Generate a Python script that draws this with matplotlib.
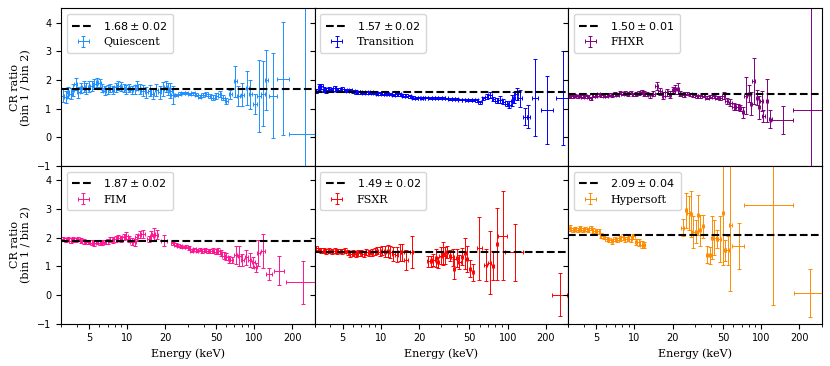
import matplotlib
matplotlib.use("Agg")
import matplotlib.pyplot as plt
from matplotlib.ticker import FixedLocator, LogLocator, NullFormatter, FixedFormatter

plt.rcParams['font.family'] = 'serif'
plt.rcParams['font.serif'] = ['DejaVu Serif']
plt.rcParams['mathtext.fontset'] = 'dejavusans'

# shared low-energy binning (keV) and half widths
e_grid = [3.10, 3.26, 3.40, 3.57, 3.72, 3.91, 4.10, 4.31, 4.52, 4.75, 4.98, 5.23, 5.49, 5.76, 6.05,
          6.35, 6.66, 6.99, 7.34, 7.70, 8.09, 8.49, 8.91, 9.35, 9.82, 10.3, 10.8, 11.4, 11.9, 12.5,
          13.3, 14.1, 15.0, 15.9, 16.9, 18.0, 19.1, 20.1, 21.0, 21.9, 22.9, 24.4, 25.9, 27.5, 29.2,
          31.1, 33.0, 35.1, 37.3, 39.6, 42.1, 44.7, 47.5, 50.5, 53.6, 57.0, 60.5]
e_grid_err = [0.08, 0.08, 0.08, 0.09, 0.09, 0.10, 0.10, 0.11, 0.11, 0.12, 0.12, 0.13, 0.14, 0.14, 0.15,
              0.16, 0.17, 0.17, 0.18, 0.19, 0.20, 0.21, 0.22, 0.23, 0.24, 0.26, 0.27, 0.28, 0.30, 0.35,
              0.40, 0.42, 0.45, 0.48, 0.50, 0.54, 0.50, 0.45, 0.48, 0.50, 0.60, 0.70, 0.80, 0.80, 0.90,
              0.90, 1.00, 1.10, 1.10, 1.20, 1.30, 1.30, 1.40, 1.50, 1.60, 1.70, 1.80]

# Quiescent
q_y = [1.45, 1.40, 1.57, 1.53, 1.65, 1.86, 1.57, 1.72, 1.77, 1.70, 1.77, 1.80, 1.86, 1.92, 1.90,
       1.72, 1.63, 1.68, 1.72, 1.65, 1.74, 1.80, 1.77, 1.72, 1.68, 1.72, 1.65, 1.68, 1.80, 1.68,
       1.63, 1.57, 1.63, 1.53, 1.65, 1.57, 1.68, 1.77, 1.68, 1.63, 1.48, 1.48, 1.53, 1.55, 1.54,
       1.52, 1.54, 1.49, 1.42, 1.48, 1.51, 1.44, 1.39, 1.45, 1.51, 1.39, 1.28]
q_ye = [0.22, 0.20, 0.20, 0.20, 0.20, 0.22, 0.20, 0.18, 0.18, 0.18, 0.18, 0.18, 0.18, 0.15, 0.15,
        0.15, 0.15, 0.15, 0.15, 0.15, 0.15, 0.15, 0.15, 0.15, 0.15, 0.15, 0.15, 0.15, 0.15, 0.18,
        0.18, 0.20, 0.20, 0.20, 0.20, 0.22, 0.25, 0.20, 0.20, 0.25, 0.30, 0.05, 0.05, 0.04, 0.04,
        0.04, 0.05, 0.05, 0.06, 0.06, 0.07, 0.07, 0.08, 0.10, 0.10, 0.10, 0.10]
q_tail_e = [65.1, 71.3, 74.8, 81.0, 88.1, 93.7, 101, 110, 118, 125, 141, 170, 252]
q_tail_ex = [1.9, 2.0, 2.0, 2.5, 2.5, 3.0, 3.5, 4, 4, 4, 10, 18, 62]
q_tail_y = [1.50, 1.95, 1.45, 1.48, 1.72, 1.50, 1.15, 1.45, 1.53, 1.99, 1.45, 2.05, 0.13]
q_tail_ye = [0.15, 0.55, 0.35, 0.40, 0.60, 0.50, 0.35, 1.25, 1.13, 1.05, 1.48, 1.97, 6.0]

# Transition
t_y = [1.63, 1.75, 1.78, 1.66, 1.64, 1.67, 1.65, 1.71, 1.66, 1.65, 1.67, 1.64, 1.63, 1.64, 1.60,
       1.59, 1.57, 1.57, 1.56, 1.58, 1.56, 1.58, 1.56, 1.53, 1.54, 1.53, 1.53, 1.51, 1.51, 1.49,
       1.50, 1.50, 1.46, 1.45, 1.43, 1.39, 1.37, 1.39, 1.38, 1.39, 1.39, 1.38, 1.38, 1.37, 1.38,
       1.37, 1.36, 1.34, 1.35, 1.34, 1.32, 1.32, 1.31, 1.30, 1.31, 1.29, 1.22]
t_ye = [0.07, 0.10, 0.09, 0.08, 0.08, 0.08, 0.07, 0.08, 0.07, 0.07, 0.07, 0.06, 0.06, 0.06, 0.06,
        0.06, 0.05, 0.05, 0.05, 0.05, 0.05, 0.05, 0.05, 0.05, 0.05, 0.04, 0.04, 0.04, 0.04, 0.04,
        0.04, 0.04, 0.04, 0.05, 0.05, 0.05, 0.04, 0.03, 0.03, 0.03, 0.03, 0.03, 0.03, 0.03, 0.03,
        0.03, 0.03, 0.03, 0.03, 0.03, 0.03, 0.03, 0.03, 0.03, 0.04, 0.04, 0.05]
t_tail_e = [64.3, 68.3, 72.6, 77.1, 82.0, 87.1, 92.5, 98.4, 103, 108, 112, 118, 125, 137, 146, 165, 206, 275]
t_tail_ex = [1.8, 2.0, 2.1, 2.3, 2.4, 2.5, 2.7, 2.9, 2.5, 2.5, 2.5, 3, 4, 5, 5, 8, 22, 35]
t_tail_y = [1.36, 1.42, 1.48, 1.34, 1.28, 1.32, 1.25, 1.18, 1.14, 1.28, 1.39, 1.51, 1.36, 0.72, 0.72, 1.39, 0.96, 1.37]
t_tail_ye = [0.05, 0.08, 0.10, 0.08, 0.08, 0.12, 0.10, 0.10, 0.12, 0.20, 0.20, 0.22, 0.30, 0.30, 0.40, 1.35, 1.18, 1.65]

# FHXR
f_y = [1.44, 1.43, 1.46, 1.44, 1.46, 1.42, 1.44, 1.42, 1.37, 1.45, 1.46, 1.51, 1.47, 1.46, 1.45,
       1.49, 1.47, 1.51, 1.49, 1.56, 1.53, 1.54, 1.52, 1.56, 1.50, 1.51, 1.56, 1.57, 1.53, 1.50,
       1.47, 1.53, 1.78, 1.60, 1.45, 1.57, 1.49, 1.65, 1.68, 1.70, 1.53, 1.49, 1.53, 1.51, 1.47,
       1.43, 1.43, 1.45, 1.39, 1.42, 1.43, 1.39, 1.37, 1.45, 1.28, 1.21, 1.07]
f_ye = [0.05, 0.05, 0.05, 0.05, 0.05, 0.05, 0.05, 0.05, 0.05, 0.05, 0.05, 0.05, 0.05, 0.05, 0.05,
        0.06, 0.06, 0.06, 0.06, 0.06, 0.06, 0.06, 0.06, 0.06, 0.06, 0.06, 0.07, 0.07, 0.07, 0.07,
        0.08, 0.10, 0.14, 0.12, 0.12, 0.12, 0.12, 0.12, 0.15, 0.18, 0.10, 0.08, 0.06, 0.05, 0.05,
        0.05, 0.05, 0.05, 0.05, 0.06, 0.06, 0.06, 0.07, 0.12, 0.10, 0.12, 0.12]
f_tail_e = [62.0, 65.1, 68.3, 71.7, 75.3, 80.0, 83.0, 87.1, 92.5, 96.0, 101, 104, 111, 118, 149, 247]
f_tail_ex = [1.5, 1.5, 1.6, 1.7, 1.8, 2.0, 2.0, 2.1, 2.2, 2.3, 2.4, 2.5, 2.6, 2.8, 29, 68]
f_tail_y = [1.05, 1.07, 1.02, 0.87, 1.45, 1.53, 1.18, 1.97, 1.39, 1.05, 1.28, 0.75, 1.28, 0.64, 0.60, 0.95]
f_tail_ye = [0.10, 0.10, 0.10, 0.20, 0.65, 0.30, 0.40, 0.80, 0.25, 0.40, 0.35, 0.20, 0.75, 0.30, 0.50, 6.0]

# FIM (first 30 grid bins)
m_y = [1.95, 1.92, 1.95, 1.89, 1.94, 1.92, 1.95, 1.89, 1.87, 1.84, 1.85, 1.82, 1.80, 1.85, 1.82,
       1.82, 1.85, 1.87, 1.93, 1.92, 1.95, 1.99, 1.95, 2.03, 2.07, 1.95, 1.86, 1.84, 2.01, 2.10]
m_ye = [0.08, 0.08, 0.08, 0.08, 0.08, 0.08, 0.08, 0.08, 0.08, 0.08, 0.08, 0.08, 0.08, 0.08, 0.08,
        0.08, 0.08, 0.08, 0.10, 0.10, 0.10, 0.10, 0.10, 0.10, 0.12, 0.10, 0.12, 0.12, 0.12, 0.12]
m_tail_e = [13.3, 14.7, 15.5, 16.2, 17.0, 19.5, 22.9, 24.1, 25.3, 26.5, 27.9, 29.2, 30.7, 32.2,
            33.8, 35.5, 37.3, 39.1, 41.1, 43.1, 45.2, 47.5, 49.9, 52.3, 54.9, 57.7, 60.5, 63.5,
            66.7, 71.7, 76.2, 81.0, 87.1, 92.5, 98.3, 103, 108, 118, 132, 158, 244]
m_tail_ex = [0.4, 0.4, 0.4, 0.4, 0.4, 0.9, 0.6, 0.6, 0.6, 0.6, 0.7, 0.7, 0.7, 0.8, 0.8, 0.9, 0.9,
             1.0, 1.0, 1.0, 1.1, 1.1, 1.2, 1.2, 1.3, 1.4, 1.4, 1.5, 1.6, 2.0, 2.0, 2.2, 2.4, 2.5,
             2.7, 2.5, 3, 5, 7, 15, 65]
m_tail_y = [2.13, 1.95, 2.07, 2.13, 2.10, 1.89, 1.80, 1.75, 1.72, 1.70, 1.67, 1.68, 1.64, 1.54,
            1.59, 1.54, 1.58, 1.54, 1.58, 1.53, 1.52, 1.54, 1.51, 1.52, 1.45, 1.37, 1.34, 1.25,
            1.22, 1.39, 1.37, 1.22, 1.31, 1.22, 1.14, 0.96, 1.45, 1.54, 0.73, 0.85, 0.44]
m_tail_ye = [0.15, 0.12, 0.15, 0.20, 0.15, 0.20, 0.05, 0.05, 0.05, 0.05, 0.05, 0.05, 0.06, 0.06,
             0.06, 0.06, 0.06, 0.07, 0.07, 0.07, 0.07, 0.08, 0.08, 0.10, 0.10, 0.12, 0.12, 0.12,
             0.12, 0.30, 0.35, 0.20, 0.25, 0.25, 0.20, 0.15, 0.45, 0.60, 0.20, 0.50, 0.75]

# FSXR (first 32 grid bins)
s_y = [1.63, 1.57, 1.54, 1.54, 1.52, 1.54, 1.52, 1.54, 1.52, 1.53, 1.52, 1.54, 1.49, 1.43, 1.46,
       1.43, 1.46, 1.45, 1.43, 1.49, 1.45, 1.47, 1.51, 1.54, 1.51, 1.54, 1.51, 1.54, 1.49, 1.43,
       1.41, 1.49]
s_ye = [0.08, 0.08, 0.08, 0.08, 0.08, 0.08, 0.08, 0.08, 0.08, 0.08, 0.08, 0.09, 0.09, 0.09, 0.09,
        0.10, 0.10, 0.10, 0.10, 0.10, 0.10, 0.12, 0.12, 0.12, 0.15, 0.15, 0.18, 0.20, 0.20, 0.25,
        0.25, 0.30]
s_tail_e = [14.8, 15.8, 17.5, 23.7, 24.7, 25.9, 27.2, 28.4, 29.6, 30.7, 31.8, 33.4, 35.1, 36.8,
            37.7, 39.6, 41.6, 43.4, 46.1, 48.1, 50.5, 53.6, 59.8, 67.0, 72.0, 77.0, 82.6, 91.5, 114, 259]
s_tail_ex = [0.4, 0.5, 0.5, 0.5, 0.5, 0.6, 0.6, 0.6, 0.6, 0.6, 0.7, 0.7, 0.7, 0.8, 0.8, 0.8, 0.9,
             0.9, 1.0, 1.0, 1.0, 1.1, 2.5, 1.4, 1.5, 1.6, 1.7, 7.6, 18, 37]
s_tail_y = [1.49, 1.22, 1.49, 1.17, 1.17, 1.22, 1.29, 1.14, 1.37, 1.43, 1.37, 1.49, 1.37, 1.31,
            0.91, 1.29, 1.14, 1.34, 1.45, 1.25, 0.91, 0.79, 1.63, 1.05, 1.13, 1.02, 1.77, 2.07, 1.49, 0.0]
s_tail_ye = [0.30, 0.35, 0.55, 0.20, 0.20, 0.20, 0.30, 0.20, 0.30, 0.40, 0.30, 0.20, 0.20, 0.30,
             0.35, 0.30, 0.25, 0.30, 0.55, 0.45, 0.30, 0.30, 1.10, 0.55, 1.10, 0.50, 1.25, 1.55, 1.00, 0.75]

# Hypersoft (first 29 grid bins)
h_y = [2.33, 2.26, 2.30, 2.26, 2.32, 2.26, 2.30, 2.26, 2.33, 2.24, 2.21, 2.22, 2.07, 2.04, 1.95,
       1.92, 1.87, 1.95, 1.92, 1.97, 2.01, 1.94, 1.99, 1.95, 2.04, 1.84, 1.84, 1.75, 1.73]
h_ye = [0.10, 0.08, 0.08, 0.08, 0.08, 0.08, 0.08, 0.08, 0.08, 0.08, 0.08, 0.08, 0.08, 0.08, 0.08,
        0.08, 0.08, 0.08, 0.08, 0.08, 0.10, 0.08, 0.10, 0.10, 0.10, 0.10, 0.12, 0.12, 0.10]
h_tail_e = [24.1, 25.6, 26.7, 28.0, 29.2, 30.5, 31.6, 33.0, 34.7, 37.3, 39.6, 40.8, 42.6, 44.7,
            46.9, 49.9, 52.0, 54.3, 57.0, 66.3, 125, 244]
h_tail_ex = [0.6, 0.6, 0.6, 0.6, 0.6, 0.6, 0.7, 0.7, 0.8, 0.9, 0.9, 0.9, 1.0, 1.0, 1.1, 1.2, 1.2,
             1.3, 1.4, 7.0, 52, 62]
h_tail_y = [2.35, 2.95, 2.85, 2.82, 2.20, 2.20, 2.80, 2.25, 2.40, 1.40, 1.38, 2.00, 2.00, 1.95,
            1.95, 2.85, 1.55, 1.55, 2.44, 1.70, 3.15, 0.06]
h_tail_ye = [0.30, 0.60, 0.60, 0.80, 0.55, 0.40, 0.70, 0.55, 0.40, 0.30, 0.30, 0.75, 0.60, 0.30,
             0.80, 1.80, 0.35, 0.50, 2.30, 0.80, 3.50, 0.83]

names = ['Quiescent', 'Transition', 'FHXR', 'FIM', 'FSXR', 'Hypersoft']
colors = ['dodgerblue', 'blue', 'purple', 'deeppink', 'red', 'darkorange']
fit_val = [1.68, 1.57, 1.50, 1.87, 1.49, 2.09]
fit_err = ['0.02', '0.02', '0.01', '0.02', '0.02', '0.04']

panels = [
    (q_y, q_ye, q_tail_e, q_tail_ex, q_tail_y, q_tail_ye),
    (t_y, t_ye, t_tail_e, t_tail_ex, t_tail_y, t_tail_ye),
    (f_y, f_ye, f_tail_e, f_tail_ex, f_tail_y, f_tail_ye),
    (m_y, m_ye, m_tail_e, m_tail_ex, m_tail_y, m_tail_ye),
    (s_y, s_ye, s_tail_e, s_tail_ex, s_tail_y, s_tail_ye),
    (h_y, h_ye, h_tail_e, h_tail_ex, h_tail_y, h_tail_ye),
]

fig, axes = plt.subplots(2, 3, figsize=(8.3, 3.66), dpi=100, sharex=True, sharey=True)
fig.subplots_adjust(left=0.0735, right=0.99, top=0.977, bottom=0.116, wspace=0, hspace=0)

for i, ax in enumerate(axes.flat):
    y, ye, te, tex, ty, tye = panels[i]
    n = len(y)
    e = e_grid[:n] + te
    ex = e_grid_err[:n] + tex
    yy = y + ty
    yerr = ye + tye
    ax.axhline(fit_val[i], color='k', ls='--', lw=1.5, zorder=3,
               label=r'$%.2f \pm %s$' % (fit_val[i], fit_err[i]))
    ax.errorbar(e, yy, xerr=ex, yerr=yerr, fmt='none', ecolor=colors[i],
                elinewidth=0.7, capsize=1.3, capthick=0.7, label=names[i])
    ax.legend(loc='upper left', fontsize=8, handlelength=2.0, borderpad=0.5, labelspacing=0.5)

    ax.set_xscale('log')
    ax.set_xlim(3, 300)
    ax.set_ylim(-1, 4.5)
    ax.xaxis.set_major_locator(FixedLocator([5, 10, 20, 50, 100, 200]))
    ax.xaxis.set_major_formatter(FixedFormatter(['5', '10', '20', '50', '100', '200']))
    ax.xaxis.set_minor_locator(LogLocator(base=10, subs=range(2, 10)))
    ax.xaxis.set_minor_formatter(NullFormatter())
    ax.set_yticks([-1, 0, 1, 2, 3, 4])
    for lab in ax.get_xticklabels() + ax.get_yticklabels():
        lab.set_fontfamily('DejaVu Sans')
        lab.set_fontsize(7)

for ax in axes[:, 0]:
    ax.set_ylabel('CR ratio\n(bin 1 / bin 2)', fontsize=8)
for ax in axes[1, :]:
    ax.set_xlabel('Energy (keV)', fontsize=8)

fig.savefig('out.png', dpi=100)
